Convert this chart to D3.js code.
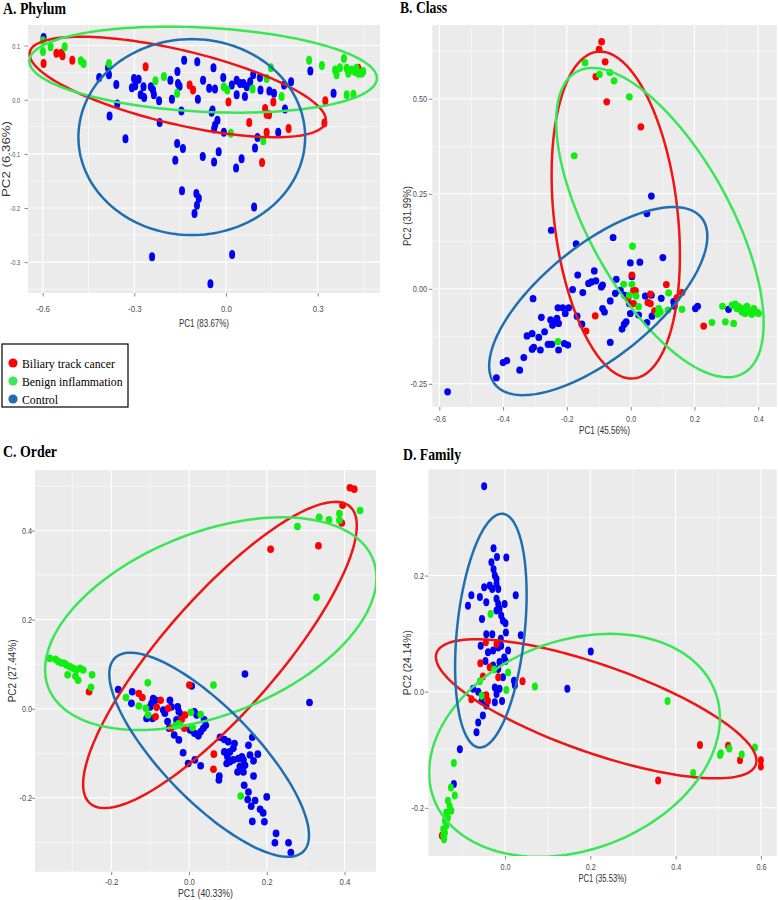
<!DOCTYPE html>
<html><head><meta charset="utf-8">
<script src="https://cdn.jsdelivr.net/npm/d3@7"></script>
<style>
body{margin:0;background:#fff;}
svg{display:block;}
.tick text{font-family:"Liberation Sans Narrow","Arial Narrow","Liberation Sans",sans-serif;font-size:9px;fill:#4d4d4d;}
.axis-title{font-family:"Liberation Sans Narrow","Arial Narrow","Liberation Sans",sans-serif;font-size:11px;fill:#333;}
.panel-title{font-family:"Liberation Serif","Times New Roman",serif;font-weight:bold;font-size:16px;fill:#000;}
.legend text{font-family:"Liberation Serif","Times New Roman",serif;font-size:13px;fill:#000;}
</style></head><body><div id="chart"></div>
<script>
// ---------- DATA ----------
const groups = ["control","cancer","benign"];
const legendLabels = ["Biliary track cancer","Benign inflammation","Control"];
const legendGroups = ["cancer","benign","control"];

// A. Phylum
const phylumCancer = [[-0.597,0.067],[-0.555,0.086],[-0.539,0.086],[-0.535,0.081],[-0.503,0.073],[-0.263,0.061],[-0.119,0.027],[-0.108,0.018],[0.008,-0.004],[0.076,-0.042],[0.128,-0.016],[0.133,-0.027],[0.141,-0.028],[0.133,-0.060],[0.155,-0.004],[0.205,-0.053],[0.118,-0.116],[0.325,-0.002],[0.322,-0.043],[0.433,0.058]];
const phylumBenign = [[-0.599,0.109],[-0.599,0.089],[-0.574,0.098],[-0.528,0.098],[-0.475,0.072],[-0.466,0.067],[-0.383,0.067],[-0.231,0.035],[-0.203,0.043],[-0.160,0.012],[-0.007,0.024],[0.004,0.018],[0.087,0.020],[0.133,0.039],[0.147,0.059],[0.182,0.006],[0.016,-0.062],[0.122,-0.076],[0.272,0.073],[0.314,0.063],[0.357,0.055],[0.362,0.046],[0.373,0.059],[0.386,0.076],[0.395,0.058],[0.400,0.049],[0.411,0.055],[0.422,0.052],[0.433,0.049],[0.444,0.049],[0.449,0.052],[0.427,0.058],[0.395,0.009],[0.417,0.010]];
const phylumControl = [[-0.597,0.115],[-0.415,0.041],[-0.386,0.059],[-0.383,0.046],[-0.359,0.028],[-0.356,-0.008],[-0.381,-0.030],[-0.329,-0.072],[-0.301,0.039],[-0.286,0.038],[-0.308,0.022],[-0.297,0.026],[-0.270,0.024],[-0.279,0.009],[-0.268,0.004],[-0.246,0.024],[-0.239,0.018],[-0.236,0.009],[-0.219,-0.002],[-0.217,-0.042],[-0.177,0.001],[-0.182,0.036],[-0.159,0.052],[-0.157,0.030],[-0.152,0.025],[-0.146,-0.021],[-0.137,0.073],[-0.160,-0.081],[-0.141,-0.090],[-0.166,-0.112],[-0.144,-0.168],[-0.097,-0.173],[-0.089,-0.182],[-0.095,-0.195],[-0.103,-0.210],[-0.076,-0.105],[-0.094,0.070],[-0.075,0.036],[-0.092,0.001],[-0.041,0.059],[-0.055,0.021],[-0.036,0.020],[-0.009,0.041],[0.019,0.027],[0.035,0.036],[0.046,0.030],[0.057,0.030],[0.068,0.024],[0.079,0.033],[0.089,0.046],[0.035,0.009],[0.062,0.006],[0.111,0.041],[0.113,0.018],[0.142,0.016],[0.157,0.012],[0.190,0.027],[0.213,0.033],[0.193,-0.017],[-0.044,-0.019],[-0.047,-0.023],[-0.028,-0.038],[-0.036,-0.047],[-0.039,-0.054],[0.171,-0.060],[0.103,-0.070],[0.095,-0.089],[-0.007,-0.060],[-0.024,-0.096],[-0.039,-0.115],[0.051,-0.109],[0.033,-0.126],[0.092,-0.198],[0.020,-0.286],[-0.051,-0.340],[-0.242,-0.290],[0.276,0.053],[0.352,0.012]];
const phylumEllipses = [
  {group:"cancer", c:[-0.158,0.0235], u:[0.484,-0.0647], v:[-0.0278,-0.0665]},
  {group:"benign", c:[-0.075,0.0555], u:[0.5687,-0.0168], v:[-0.0072,-0.0776]},
  {group:"control", c:[-0.112,-0.069], u:[0.371,0], v:[0,0.181]}
];
const phylumXTicks = [-0.6,-0.3,0,0.3];
const phylumXLabels = ["-0.6","-0.3","0.0","0.3"];
const phylumYTicks = [0.1,0,-0.1,-0.2,-0.3];
const phylumYLabels = ["0.1","0.0","-0.1","-0.2","-0.3"];

// B. Class
const classCancer = [[-0.091,0.650],[-0.099,0.630],[-0.080,0.597],[-0.109,0.558],[-0.075,0.492],[0.032,0.426],[0.004,0.036],[0.009,-0.004],[0.015,-0.005],[-0.008,-0.025],[0.009,-0.039],[0.062,-0.014],[0.054,-0.036],[0.062,-0.039],[0.112,0.011],[0.145,-0.024],[0.161,-0.010],[0.075,-0.058],[-0.111,-0.071],[-0.140,-0.111],[0.229,-0.098]];
const classBenign = [[-0.143,0.595],[-0.098,0.564],[-0.065,0.569],[-0.052,0.547],[-0.004,0.505],[-0.177,0.350],[0.006,0.112],[-0.022,0.012],[0.004,0.012],[-0.004,-0.017],[0.017,-0.019],[0.025,-0.047],[0.088,-0.052],[0.093,-0.061],[0.085,-0.067],[0.119,-0.011],[0.117,-0.056],[0.161,-0.054],[-0.228,-0.139],[0.255,-0.089],[0.297,-0.087],[0.323,-0.091],[0.288,-0.046],[0.318,-0.043],[0.328,-0.040],[0.339,-0.047],[0.354,-0.052],[0.365,-0.046],[0.375,-0.061],[0.386,-0.052],[0.396,-0.061],[0.401,-0.065],[0.380,-0.067],[0.359,-0.065],[0.349,-0.061],[0.333,-0.052]];
const classControl = [[0.065,0.244],[0.051,0.198],[-0.249,0.154],[-0.171,0.118],[-0.055,0.135],[0.101,0.082],[-0.001,0.068],[0.029,0.070],[-0.114,0.047],[-0.166,0.036],[-0.045,0.025],[-0.132,0.014],[-0.123,0.018],[-0.109,0.021],[-0.088,0.010],[-0.092,0.005],[-0.182,-0.002],[-0.150,-0.010],[-0.306,-0.026],[-0.048,-0.012],[-0.032,-0.004],[-0.019,-0.017],[0.004,0.032],[0.046,-0.019],[0.065,-0.017],[0.096,-0.025],[0.135,-0.034],[0.137,-0.046],[-0.064,-0.032],[-0.004,-0.039],[-0.228,-0.050],[-0.213,-0.050],[-0.194,-0.050],[-0.205,-0.065],[-0.280,-0.075],[-0.251,-0.082],[-0.238,-0.087],[-0.231,-0.078],[-0.226,-0.091],[-0.245,-0.096],[-0.168,-0.072],[-0.088,-0.052],[-0.082,-0.061],[-0.001,-0.065],[0.025,-0.069],[-0.014,-0.087],[-0.020,-0.093],[-0.027,-0.106],[0.051,-0.089],[0.067,-0.072],[0.075,-0.065],[-0.153,-0.093],[-0.309,-0.118],[-0.325,-0.124],[-0.270,-0.113],[-0.288,-0.128],[-0.309,-0.159],[-0.304,-0.154],[-0.283,-0.161],[-0.259,-0.146],[-0.247,-0.146],[-0.226,-0.161],[-0.208,-0.144],[-0.197,-0.148],[-0.335,-0.181],[-0.400,-0.194],[-0.388,-0.189],[-0.348,-0.214],[-0.421,-0.234],[-0.574,-0.271],[-0.064,-0.141],[0.203,-0.052],[0.210,-0.046],[0.307,-0.054]];
const classEllipses = [
  {group:"cancer", c:[-0.0467,0.194], u:[0.0575,-0.4297], v:[0.1928,0.0182]},
  {group:"benign", c:[0.0918,0.1742], u:[0.2611,-0.3968], v:[-0.194,-0.090]},
  {group:"control", c:[-0.1016,-0.0324], u:[0.3238,0.2192], v:[0.1103,-0.1147]}
];
const classXTicks = [-0.6,-0.4,-0.2,0,0.2,0.4];
const classXLabels = ["-0.6","-0.4","-0.2","0.0","0.2","0.4"];
const classYTicks = [0.5,0.25,0,-0.25];
const classYLabels = ["0.50","0.25","0.00","-0.25"];

// C. Order
const orderCancer = [[0.414,0.496],[0.425,0.493],[0.395,0.457],[0.393,0.417],[0.210,0.358],[0.333,0.366],[-0.257,0.038],[-0.129,0.034],[-0.120,0.025],[-0.083,0.003],[-0.073,0.019],[-0.053,0.001],[-0.086,-0.018],[0.001,0.053],[-0.010,-0.014],[-0.019,-0.024],[-0.012,-0.044],[-0.046,-0.044],[0.064,-0.102],[0.063,-0.136]];
const orderBenign = [[0.440,0.445],[0.387,0.438],[0.335,0.430],[0.360,0.424],[0.387,0.423],[0.279,0.409],[0.328,0.250],[-0.358,0.113],[-0.343,0.111],[-0.336,0.106],[-0.329,0.103],[-0.321,0.102],[-0.315,0.098],[-0.306,0.094],[-0.298,0.091],[-0.289,0.087],[-0.280,0.091],[-0.272,0.087],[-0.312,0.076],[-0.292,0.073],[-0.285,0.064],[-0.249,0.076],[-0.252,0.048],[-0.106,0.058],[-0.162,0.025],[-0.129,0.006],[-0.111,0.001],[-0.105,-0.014],[0.063,0.053],[0.005,-0.008],[0.030,-0.013],[-0.027,-0.034],[-0.023,-0.037],[-0.036,-0.039],[0.009,-0.042],[0.133,-0.196]];
const orderControl = [[-0.182,0.043],[-0.146,0.038],[-0.148,0.012],[0.144,0.078],[0.310,0.014],[-0.092,0.023],[-0.086,0.019],[-0.096,0.012],[-0.100,0.004],[-0.109,-0.022],[-0.094,-0.022],[-0.066,-0.003],[-0.062,-0.010],[-0.049,0.019],[-0.045,0.004],[-0.029,0.004],[-0.026,-0.007],[-0.019,-0.014],[-0.032,-0.025],[-0.055,-0.029],[-0.051,-0.044],[-0.038,-0.059],[-0.026,-0.070],[0.007,0.051],[0.014,-0.007],[0.020,-0.014],[0.003,-0.048],[0.014,-0.055],[0.024,-0.061],[0.030,-0.052],[0.037,-0.044],[0.043,-0.037],[0.039,-0.025],[-0.015,-0.099],[-0.002,-0.123],[0.015,-0.115],[0.030,-0.128],[0.080,-0.064],[0.091,-0.069],[0.101,-0.074],[0.117,-0.078],[0.114,-0.089],[0.105,-0.097],[0.091,-0.097],[0.099,-0.108],[0.153,-0.082],[0.163,-0.064],[0.177,-0.102],[0.097,-0.123],[0.105,-0.119],[0.114,-0.115],[0.127,-0.112],[0.136,-0.108],[0.140,-0.115],[0.131,-0.130],[0.125,-0.142],[0.140,-0.142],[0.144,-0.127],[0.166,-0.117],[0.157,-0.104],[0.078,-0.151],[0.077,-0.160],[0.142,-0.172],[0.153,-0.187],[0.170,-0.206],[0.160,-0.219],[0.151,-0.204],[0.166,-0.151],[0.200,-0.198],[0.183,-0.226],[0.191,-0.234],[0.194,-0.254],[0.163,-0.253],[0.224,-0.280],[0.221,-0.301],[0.256,-0.301],[0.262,-0.323]];
const orderEllipses = [
  {group:"cancer", c:[0.0797,0.1207], u:[0.3342,0.3333], v:[0.1102,-0.0845]},
  {group:"benign", c:[0.056,0.191], u:[0.4173,0.1444], v:[0.0861,-0.1901]},
  {group:"control", c:[0.0519,-0.1034], u:[0.2422,-0.2173], v:[0.0853,0.0726]}
];
const orderXTicks = [-0.2,0,0.2,0.4];
const orderXLabels = ["-0.2","0.0","0.2","0.4"];
const orderYTicks = [0.4,0.2,0,-0.2];
const orderYLabels = ["0.4","0.2","0.0","-0.2"];

// D. Family
const familyCancer = [[-0.045,0.085],[-0.020,0.082],[-0.058,0.049],[-0.036,0.042],[-0.052,0.026],[-0.016,0.025],[0.041,0.018],[-0.044,-0.006],[-0.040,-0.016],[-0.079,-0.013],[-0.148,-0.248],[0.457,-0.092],[0.523,-0.093],[0.551,-0.118],[0.600,-0.118],[0.600,-0.129],[0.359,-0.153]];
const familyBenign = [[-0.034,0.134],[-0.026,0.038],[-0.059,0.018],[-0.055,-0.007],[0.007,0.033],[0.003,0.003],[0.070,0.009],[-0.120,-0.123],[-0.127,-0.165],[-0.118,-0.179],[-0.134,-0.188],[-0.130,-0.197],[-0.126,-0.205],[-0.138,-0.208],[-0.134,-0.217],[-0.141,-0.222],[-0.138,-0.231],[-0.145,-0.237],[-0.141,-0.243],[-0.145,-0.248],[-0.143,-0.254],[0.381,-0.016],[0.526,-0.098],[0.504,-0.109],[0.506,-0.106],[0.555,-0.108],[0.586,-0.096],[0.441,-0.140]];
const familyControl = [[-0.049,0.354],[-0.027,0.247],[-0.019,0.232],[0.003,0.231],[-0.032,0.223],[-0.027,0.211],[-0.024,0.200],[-0.020,0.194],[-0.049,0.180],[-0.036,0.183],[-0.030,0.177],[-0.020,0.186],[-0.016,0.177],[-0.079,0.166],[-0.059,0.163],[-0.044,0.154],[-0.020,0.160],[-0.016,0.151],[-0.013,0.143],[-0.001,0.151],[-0.020,0.140],[-0.087,0.148],[0.025,0.166],[-0.054,0.125],[-0.009,0.131],[-0.005,0.122],[0.001,0.118],[-0.044,0.099],[-0.030,0.099],[0.002,0.102],[-0.010,0.091],[-0.057,0.079],[-0.040,0.068],[-0.028,0.071],[-0.016,0.076],[-0.009,0.079],[0.007,0.071],[-0.002,0.059],[0.001,0.053],[0.037,0.097],[-0.046,0.053],[-0.028,0.045],[-0.016,0.039],[-0.013,0.051],[-0.005,0.025],[0.021,0.019],[0.023,0.011],[-0.075,0.005],[-0.063,0.000],[-0.052,-0.007],[-0.024,0.007],[-0.013,0.005],[-0.020,-0.004],[-0.007,-0.016],[-0.024,-0.018],[-0.055,-0.016],[-0.044,-0.024],[-0.052,-0.041],[-0.063,-0.053],[-0.067,-0.070],[-0.106,-0.099],[-0.120,-0.159],[0.201,0.069],[0.146,0.005]];
const familyEllipses = [
  {group:"cancer", c:[0.2137,-0.0295], u:[0.3743,-0.0962], v:[-0.034,-0.0714]},
  {group:"benign", c:[0.1629,-0.0924], u:[0.3295,0.0931], v:[0.0876,-0.1679]},
  {group:"control", c:[-0.0333,0.1052], u:[0.0281,0.2012], v:[0.079,-0.006]}
];
const familyXTicks = [0,0.2,0.4,0.6];
const familyXLabels = ["0.0","0.2","0.4","0.6"];
const familyYTicks = [0.2,0,-0.2];
const familyYLabels = ["0.2","0.0","-0.2"];

// ---------- STYLE / LAYOUT ----------
const pointColor = {cancer:"#ff0000", benign:"#10ee10", control:"#0000f5"};
const ellipseColor = {cancer:"#ee1515", benign:"#3ae657", control:"#1f6eb0"};
const legendColor = {cancer:"#ff0000", benign:"#3ee65a", control:"#1f6eb0"};

const panels = [
  {title:"A. Phylum", pts:{cancer:phylumCancer, benign:phylumBenign, control:phylumControl}, ell:phylumEllipses,
   xt:phylumXTicks, xl:phylumXLabels, yt:phylumYTicks, yl:phylumYLabels, xTitle:"PC1 (83.67%)", yTitle:"PC2 (6.36%)",
   box:{l:28,r:380,t:25,b:293}, xd:[-0.648,0.504], yd:[-0.357,0.138], pr:[3,4.5],
   tPos:[3,14,63], xLabOff:18.5, yLabX:20, xTitleY:326.5, xTitleLen:50, yTitleX:10, yTitleLen:76,
   xk:0.87, yk:0.7, yFs:8},
  {title:"B. Class", pts:{cancer:classCancer, benign:classBenign, control:classControl}, ell:classEllipses,
   xt:classXTicks, xl:classXLabels, yt:classYTicks, yl:classYLabels, xTitle:"PC1 (45.56%)", yTitle:"PC2 (31.99%)",
   box:{l:432.3,r:776.7,t:25,b:407}, xd:[-0.622,0.458], yd:[-0.311,0.694], pr:[3.4,3.6],
   tPos:[400,13,47], xLabOff:14.5, yLabX:427, xTitleY:433.5, xTitleLen:51, yTitleX:410.5, yTitleLen:60,
   xk:0.81, yk:0.81, yFs:9},
  {title:"C. Order", pts:{cancer:orderCancer, benign:orderBenign, control:orderControl}, ell:orderEllipses,
   xt:orderXTicks, xl:orderXLabels, yt:orderYTicks, yl:orderYLabels, xTitle:"PC1 (40.33%)", yTitle:"PC2 (27.44%)",
   box:{l:35,r:376,t:470,b:871.7}, xd:[-0.396,0.481], yd:[-0.366,0.536], pr:[3.4,3.8],
   tPos:[3,457,54], xLabOff:13.5, yLabX:32, xTitleY:896.5, xTitleLen:55, yTitleX:16, yTitleLen:63,
   xk:0.87, yk:0.8, yFs:9},
  {title:"D. Family", pts:{cancer:familyCancer, benign:familyBenign, control:familyControl}, ell:familyEllipses,
   xt:familyXTicks, xl:familyXLabels, yt:familyYTicks, yl:familyYLabels, xTitle:"PC1 (35.53%)", yTitle:"PC2 (24.14%)",
   box:{l:428.3,r:776.7,t:469.3,b:856}, xd:[-0.180,0.637], yd:[-0.283,0.383], pr:[3,4],
   tPos:[403,460,58], xLabOff:13.5, yLabX:424, xTitleY:881.5, xTitleLen:48, yTitleX:411, yTitleLen:65,
   xk:0.8, yk:0.8, yFs:9}
];

const W = 778, H = 900;
const svg = d3.select("#chart").append("svg").attr("width", W).attr("height", H);

function minorTicks(ticks, domain){
  const s = d3.sort(ticks);
  const step = s[1]-s[0];
  const out = [];
  for (let v = s[0]-step/2; v <= s[s.length-1]+step/2+1e-9; v += step){
    if (v >= Math.min(...domain) && v <= Math.max(...domain)) out.push(v);
  }
  return out;
}

function squeeze(sel, k){
  sel.each(function(){
    const w = this.getComputedTextLength();
    d3.select(this).attr("textLength", w*k).attr("lengthAdjust", "spacingAndGlyphs");
  });
}

panels.forEach(p => {
  const b = p.box;
  const x = d3.scaleLinear().domain(p.xd).range([b.l, b.r]);
  const y = d3.scaleLinear().domain(p.yd).range([b.b, b.t]);
  const g = svg.append("g");
  const clipId = "clip" + p.title[0];
  g.append("clipPath").attr("id", clipId).append("rect")
    .attr("x", b.l).attr("y", b.t).attr("width", b.r-b.l).attr("height", b.b-b.t);

  g.append("rect").attr("x", b.l).attr("y", b.t).attr("width", b.r-b.l).attr("height", b.b-b.t).attr("fill", "#ebebeb");

  // grid
  const grid = g.append("g");
  grid.selectAll(".mx").data(minorTicks(p.xt, p.xd)).join("line")
    .attr("x1", d=>x(d)).attr("x2", d=>x(d)).attr("y1", b.t).attr("y2", b.b)
    .attr("stroke", "#fff").attr("stroke-width", 0.55);
  grid.selectAll(".my").data(minorTicks(p.yt, p.yd)).join("line")
    .attr("y1", d=>y(d)).attr("y2", d=>y(d)).attr("x1", b.l).attr("x2", b.r)
    .attr("stroke", "#fff").attr("stroke-width", 0.55);
  grid.selectAll(".Mx").data(p.xt).join("line")
    .attr("x1", d=>x(d)).attr("x2", d=>x(d)).attr("y1", b.t).attr("y2", b.b)
    .attr("stroke", "#fff").attr("stroke-width", 1.1);
  grid.selectAll(".My").data(p.yt).join("line")
    .attr("y1", d=>y(d)).attr("y2", d=>y(d)).attr("x1", b.l).attr("x2", b.r)
    .attr("stroke", "#fff").attr("stroke-width", 1.1);

  // points
  const pg = g.append("g").attr("clip-path", `url(#${clipId})`);
  groups.forEach(gr => {
    pg.append("g").selectAll("ellipse").data(p.pts[gr]).join("ellipse")
      .attr("cx", d=>x(d[0])).attr("cy", d=>y(d[1]))
      .attr("rx", p.pr[0]).attr("ry", p.pr[1])
      .attr("fill", pointColor[gr]);
  });

  // confidence ellipses
  const line = d3.line().x(d=>x(d[0])).y(d=>y(d[1])).curve(d3.curveLinearClosed);
  p.ell.forEach(e => {
    const ptsE = d3.range(0, 160).map(i => {
      const t = 2*Math.PI*i/160;
      return [e.c[0] + e.u[0]*Math.cos(t) + e.v[0]*Math.sin(t),
              e.c[1] + e.u[1]*Math.cos(t) + e.v[1]*Math.sin(t)];
    });
    pg.append("path").attr("d", line(ptsE)).attr("fill", "none")
      .attr("stroke", ellipseColor[e.group]).attr("stroke-width", 2.5);
  });

  // axes
  const xa = g.append("g").attr("transform", `translate(0,${b.b})`)
    .call(d3.axisBottom(x).tickValues(p.xt).tickFormat((d,i)=>p.xl[i]).tickSize(3.5).tickSizeOuter(0));
  xa.select(".domain").remove();
  xa.selectAll(".tick line").attr("stroke", "#555").attr("stroke-width", 0.7);
  xa.selectAll(".tick text").attr("y", p.xLabOff).attr("dy", 0);
  squeeze(xa.selectAll(".tick text"), p.xk);
  const ya = g.append("g").attr("transform", `translate(${b.l},0)`)
    .call(d3.axisLeft(y).tickValues(p.yt).tickFormat((d,i)=>p.yl[i]).tickSize(3.5).tickSizeOuter(0));
  ya.select(".domain").remove();
  ya.selectAll(".tick line").attr("stroke", "#555").attr("stroke-width", 0.7);
  ya.selectAll(".tick text").attr("x", p.yLabX - b.l).style("font-size", p.yFs + "px");
  squeeze(ya.selectAll(".tick text"), p.yk);

  // titles
  g.append("text").attr("class", "axis-title").attr("x", (b.l+b.r)/2).attr("y", p.xTitleY)
    .attr("text-anchor", "middle").attr("textLength", p.xTitleLen).attr("lengthAdjust", "spacingAndGlyphs").text(p.xTitle);
  g.append("text").attr("class", "axis-title")
    .attr("transform", `translate(${p.yTitleX},${(b.t+b.b)/2}) rotate(-90)`)
    .attr("text-anchor", "middle").attr("textLength", p.yTitleLen).attr("lengthAdjust", "spacingAndGlyphs").text(p.yTitle);
  g.append("text").attr("class", "panel-title").attr("x", p.tPos[0]).attr("y", p.tPos[1])
    .attr("textLength", p.tPos[2]).attr("lengthAdjust", "spacingAndGlyphs").text(p.title);
});

// legend
const lg = svg.append("g").attr("class", "legend");
lg.append("rect").attr("x", 2).attr("y", 344).attr("width", 126).attr("height", 63)
  .attr("fill", "#fff").attr("stroke", "#000").attr("stroke-width", 1.2);
const items = lg.selectAll("g.item").data(legendGroups).join("g").attr("class", "item")
  .attr("transform", (d,i)=>`translate(0,${363 + i*18})`);
items.append("circle").attr("cx", 13).attr("cy", 0).attr("r", 4.6).attr("fill", d=>legendColor[d]);
const texts = items.append("text").attr("x", 22).attr("y", 4.5).text((d,i)=>legendLabels[i]);
const w0 = texts.nodes()[0].getComputedTextLength();
squeeze(texts, 93 / w0);
</script>
</body></html>
